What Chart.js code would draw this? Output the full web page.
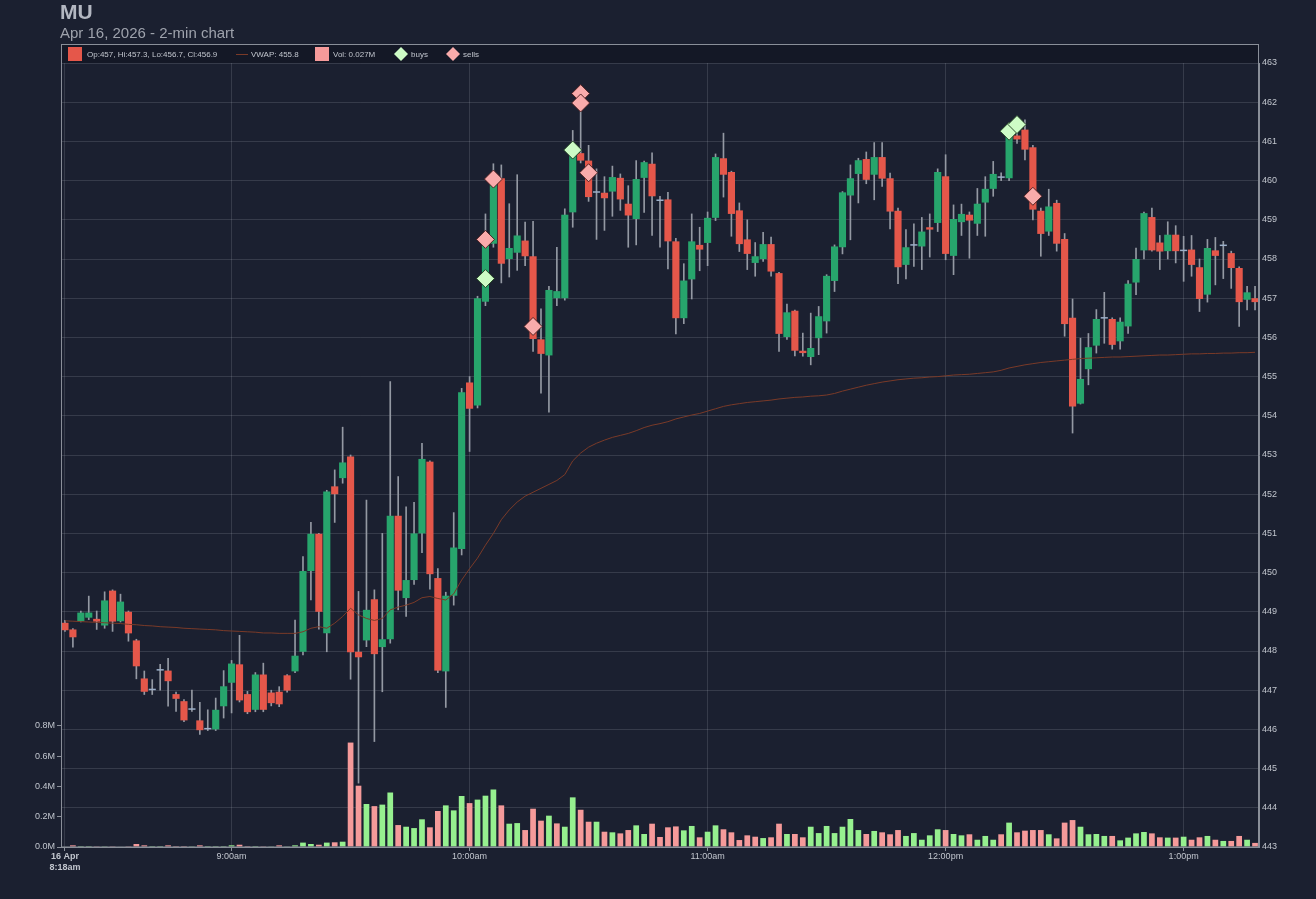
<!DOCTYPE html>
<html>
<head>
<meta charset="utf-8">
<title>MU 2-min chart</title>
<script src="https://cdn.jsdelivr.net/npm/chart.js@4.4.1/dist/chart.umd.min.js"></script>
<style>
  html, body { margin: 0; padding: 0; background: #1b2030; }
  #wrap { width: 1316px; height: 899px; }
</style>
</head>
<body>
<div id="wrap"><canvas id="mu" width="1316" height="899"></canvas></div>
<script>
// 2-min bars from 8:18am to 1:18pm
const times = [];
for (let m = 8 * 60 + 18; m <= 13 * 60 + 18; m += 2) {
  const h = Math.floor(m / 60), mm = m % 60;
  times.push((h > 12 ? h - 12 : h) + ':' + String(mm).padStart(2, '0') + (h >= 12 ? 'pm' : 'am'));
}
const dayLabel = '16 Apr';
const tickLabels = ['8:18am', '9:00am', '10:00am', '11:00am', '12:00pm', '1:00pm'];
const priceTicks = { min: 443, max: 463, step: 1 };
const volTicks = [0, 0.2, 0.4, 0.6, 0.8];

const opens = [
  448.72, 448.55, 448.76, 448.85, 448.82, 448.65, 449.54, 448.76, 449.00, 448.27,
  447.30, 447.00, 447.50, 447.50, 446.90, 446.72, 446.50, 446.23, 446.00, 446.00,
  446.59, 447.19, 447.66, 446.90, 446.50, 447.40, 446.94, 446.96, 447.38, 447.48,
  447.98, 450.04, 450.99, 448.45, 452.20, 452.41, 452.96, 447.98, 448.27, 449.32,
  448.10, 448.30, 451.45, 449.35, 449.81, 451.00, 452.83, 449.86, 447.48, 449.41,
  450.60, 454.85, 454.26, 456.91, 458.39, 460.06, 458.00, 458.16, 458.47, 458.07,
  455.95, 455.54, 457.00, 457.00, 459.19, 460.70, 460.51, 459.69, 459.69, 459.72,
  460.07, 459.41, 459.02, 460.07, 460.43, 459.50, 459.52, 458.45, 456.49, 457.48,
  458.36, 458.41, 459.05, 460.57, 460.22, 459.24, 458.50, 457.90, 458.00, 458.38,
  457.64, 456.01, 456.68, 455.66, 455.50, 455.98, 456.41, 457.44, 458.30, 459.62,
  460.17, 460.55, 460.15, 460.60, 460.06, 459.23, 457.85, 458.34, 458.32, 458.81,
  458.92, 460.11, 458.08, 458.94, 459.13, 458.90, 459.44, 459.79, 460.07, 460.06,
  461.15, 461.30, 460.85, 459.23, 458.70, 459.43, 458.51, 456.50, 454.31, 455.19,
  455.79, 456.48, 456.47, 455.90, 456.28, 457.40, 458.22, 459.07, 458.42, 458.20,
  458.62, 458.20, 458.24, 457.79, 457.09, 458.22, 458.33, 458.15, 457.77, 456.96,
  457.00
];
const highs = [
  448.78, 448.57, 449.02, 449.40, 449.02, 449.51, 449.56, 449.45, 449.02, 448.30,
  447.49, 447.27, 447.66, 447.81, 446.95, 446.76, 447.00, 446.69, 446.50, 446.80,
  447.50, 447.76, 448.40, 446.97, 447.45, 447.69, 447.00, 447.09, 447.40, 448.79,
  450.41, 451.28, 451.00, 452.10, 452.62, 453.71, 453.00, 449.52, 451.85, 449.56,
  451.00, 454.87, 452.45, 451.68, 451.79, 453.30, 452.85, 450.10, 449.50, 451.53,
  454.70, 455.00, 457.05, 459.15, 460.43, 460.40, 459.41, 460.15, 458.94, 458.96,
  456.73, 457.30, 458.30, 459.28, 461.28, 461.85, 460.90, 460.30, 460.10, 460.37,
  460.17, 459.87, 460.51, 460.50, 460.71, 459.60, 459.70, 458.53, 457.88, 459.15,
  458.81, 459.20, 460.68, 461.21, 460.24, 459.43, 459.00, 458.42, 458.68, 458.56,
  457.66, 456.85, 456.70, 456.11, 456.62, 456.79, 457.60, 458.36, 459.72, 460.40,
  460.57, 460.73, 460.97, 460.97, 460.19, 459.30, 458.75, 458.90, 459.06, 459.15,
  460.30, 460.66, 459.38, 459.40, 459.20, 459.80, 460.10, 460.49, 460.20, 461.15,
  461.60, 461.55, 460.90, 459.30, 459.78, 459.50, 458.65, 456.98, 455.98, 456.10,
  456.71, 457.15, 456.50, 456.50, 457.45, 458.28, 459.20, 459.30, 458.60, 458.95,
  458.85, 458.58, 458.60, 458.00, 458.50, 458.55, 458.45, 458.20, 457.80, 457.30,
  457.30
];
const lows = [
  448.50, 448.10, 448.74, 448.80, 448.55, 448.58, 448.50, 448.74, 448.25, 447.29,
  446.89, 446.89, 447.00, 446.59, 446.46, 446.20, 446.46, 445.87, 445.97, 445.97,
  446.29, 446.42, 446.70, 446.40, 446.45, 446.45, 446.60, 446.58, 446.95, 447.45,
  447.90, 449.30, 448.56, 447.98, 451.28, 452.28, 447.28, 444.63, 448.11, 445.69,
  446.96, 448.20, 449.05, 448.88, 449.70, 450.51, 449.58, 447.45, 446.56, 449.17,
  450.45, 453.09, 454.20, 456.81, 458.30, 457.39, 457.54, 457.71, 457.83, 455.64,
  454.58, 454.09, 456.81, 456.95, 458.81, 460.45, 459.47, 458.50, 458.73, 459.09,
  459.24, 458.30, 458.36, 459.19, 458.60, 458.30, 457.75, 456.09, 456.35, 456.98,
  457.70, 457.83, 458.98, 459.58, 458.58, 458.19, 457.73, 457.56, 457.94, 457.56,
  455.64, 455.95, 455.53, 455.52, 455.30, 455.56, 456.11, 457.17, 458.13, 458.49,
  459.43, 459.92, 459.51, 459.85, 458.77, 457.37, 457.49, 457.81, 457.73, 458.05,
  458.70, 457.98, 457.60, 458.60, 458.02, 458.60, 458.58, 459.60, 460.00, 460.00,
  460.95, 460.53, 459.00, 458.07, 458.60, 458.20, 456.03, 453.56, 454.30, 454.79,
  455.60, 455.85, 455.70, 455.70, 456.10, 457.09, 458.00, 458.20, 457.73, 458.00,
  457.90, 457.43, 457.56, 456.66, 456.90, 457.34, 457.50, 457.25, 456.28, 456.70,
  456.70
];
const closes = [
  448.53, 448.35, 448.98, 448.98, 448.75, 449.29, 448.75, 449.26, 448.45, 447.61,
  446.96, 447.00, 447.52, 447.23, 446.78, 446.23, 446.50, 445.98, 446.00, 446.50,
  447.10, 447.68, 446.74, 446.44, 447.40, 446.50, 446.67, 446.64, 446.99, 447.88,
  450.04, 450.99, 449.00, 452.07, 452.00, 452.81, 447.97, 447.84, 449.05, 447.92,
  448.30, 451.45, 449.54, 449.81, 451.00, 452.90, 449.96, 447.50, 449.41, 450.64,
  454.60, 454.18, 457.00, 458.39, 459.96, 457.88, 458.28, 458.60, 458.07, 455.96,
  455.58, 457.21, 457.18, 459.13, 460.68, 460.51, 459.58, 459.70, 459.55, 460.09,
  459.52, 459.11, 460.04, 460.47, 459.60, 459.48, 458.45, 456.49, 457.45, 458.45,
  458.24, 459.05, 460.60, 460.15, 459.15, 458.38, 458.13, 458.07, 458.38, 457.68,
  456.09, 456.64, 455.66, 455.60, 455.73, 456.54, 457.57, 458.32, 459.70, 460.06,
  460.52, 460.02, 460.60, 460.05, 459.21, 457.79, 458.30, 458.36, 458.70, 458.75,
  460.22, 458.13, 459.02, 459.15, 458.98, 459.41, 459.79, 460.17, 460.10, 461.13,
  461.05, 460.79, 459.26, 458.64, 459.34, 458.39, 456.34, 454.24, 454.94, 455.75,
  456.47, 456.50, 455.81, 456.40, 457.37, 458.00, 459.17, 458.22, 458.19, 458.62,
  458.20, 458.22, 457.85, 456.98, 458.28, 458.08, 458.35, 457.77, 456.90, 457.15,
  456.90
];
// volume in millions
const volumes = [
  0.003, 0.011, 0.006, 0.006, 0.005, 0.005, 0.005, 0.003, 0.005, 0.020,
  0.011, 0.006, 0.006, 0.011, 0.006, 0.006, 0.005, 0.011, 0.006, 0.006,
  0.006, 0.011, 0.015, 0.006, 0.006, 0.005, 0.002, 0.011, 0.002, 0.011,
  0.029, 0.020, 0.015, 0.029, 0.031, 0.035, 0.690, 0.405, 0.284, 0.270,
  0.280, 0.360, 0.145, 0.134, 0.125, 0.183, 0.130, 0.238, 0.275, 0.242,
  0.337, 0.290, 0.313, 0.339, 0.380, 0.275, 0.154, 0.158, 0.112, 0.253,
  0.174, 0.207, 0.156, 0.134, 0.328, 0.246, 0.167, 0.167, 0.101, 0.097,
  0.090, 0.112, 0.143, 0.086, 0.154, 0.066, 0.130, 0.136, 0.110, 0.139,
  0.064, 0.101, 0.143, 0.117, 0.097, 0.046, 0.077, 0.068, 0.059, 0.064,
  0.154, 0.086, 0.086, 0.064, 0.134, 0.092, 0.139, 0.092, 0.134, 0.185,
  0.112, 0.086, 0.106, 0.097, 0.084, 0.112, 0.073, 0.092, 0.048, 0.077,
  0.117, 0.112, 0.086, 0.077, 0.084, 0.048, 0.073, 0.048, 0.084, 0.161,
  0.097, 0.108, 0.112, 0.112, 0.084, 0.057, 0.161, 0.178, 0.134, 0.084,
  0.086, 0.073, 0.073, 0.044, 0.062, 0.090, 0.099, 0.090, 0.064, 0.062,
  0.062, 0.068, 0.048, 0.064, 0.073, 0.048, 0.040, 0.040, 0.073, 0.048,
  0.027
];
const vwap = [
  448.77, 448.76, 448.75, 448.74, 448.73, 448.72, 448.71, 448.70, 448.68, 448.67,
  448.65, 448.64, 448.62, 448.61, 448.60, 448.58, 448.57, 448.56, 448.55, 448.54,
  448.52, 448.51, 448.50, 448.49, 448.48, 448.46, 448.46, 448.45, 448.45, 448.45,
  448.49, 448.58, 448.62, 448.58, 448.71, 448.88, 449.09, 448.92, 448.83, 448.78,
  448.83, 449.05, 449.12, 449.17, 449.24, 449.36, 449.39, 449.34, 449.30, 449.46,
  449.81, 450.10, 450.37, 450.70, 451.00, 451.35, 451.60, 451.80, 451.95, 452.05,
  452.15, 452.25, 452.35, 452.50, 452.85, 453.05, 453.20, 453.30, 453.38, 453.45,
  453.50, 453.55, 453.62, 453.70, 453.76, 453.80, 453.85, 453.92, 453.97, 454.02,
  454.06, 454.12, 454.18, 454.24, 454.28, 454.31, 454.34, 454.36, 454.38, 454.40,
  454.43, 454.45, 454.47, 454.48, 454.50, 454.51, 454.53, 454.57, 454.63, 454.68,
  454.73, 454.78, 454.82, 454.86, 454.89, 454.92, 454.94, 454.96, 454.97, 454.99,
  455.00, 455.02, 455.04, 455.05, 455.06, 455.08, 455.10, 455.12, 455.16, 455.22,
  455.26, 455.30, 455.33, 455.36, 455.38, 455.40, 455.42, 455.44, 455.46, 455.47,
  455.48, 455.49, 455.50, 455.50, 455.51, 455.52, 455.53, 455.54, 455.55, 455.55,
  455.56, 455.57, 455.58, 455.58, 455.59, 455.59, 455.60, 455.60, 455.61, 455.61,
  455.62
];
// trade markers: bar index + price
const buyBars = [53, 64, 119, 120];
const buyPrices = [457.50, 460.78, 461.26, 461.43];
const sellBars = [53, 54, 59, 65, 65, 66, 122];
const sellPrices = [458.50, 460.04, 456.28, 462.22, 461.98, 460.20, 459.60];

const titleText = 'MU';
const subtitleText = 'Apr 16, 2026 - 2-min chart';
const legendTexts = ['Op:457, Hi:457.3, Lo:456.7, Cl:456.9', 'VWAP: 455.8', 'Vol: 0.027M', 'buys', 'sells'];

// colours
const upColor = '#27a56c';
const downColor = '#e5574a';
const dojiColor = '#9db0ca';
const wickColor = '#9499a3';
const volUp = '#96f08f';
const volDown = '#f59a9a';
const vwapColor = '#7a3a28';
const buyColor = '#cdfcc6';
const sellColor = '#f9abab';
const gridColor = 'rgba(190, 196, 210, 0.17)';
const axisColor = '#8a8f99';
const textColor = '#c2c6ce';
const fontFamily = '"Liberation Sans", Arial, sans-serif';

const bodyColors = closes.map((c, i) => {
  const d = c - opens[i];
  return d > 0.035 ? upColor : (d < -0.035 ? downColor : dojiColor);
});
const volColors = closes.map((c, i) => (i === 0 || c >= closes[i - 1]) ? volUp : volDown);

// title, legend strip and frame
const framePlugin = {
  id: 'frame',
  beforeDraw(chart) {
    const { ctx, chartArea: a } = chart;
    ctx.save();
    ctx.fillStyle = '#1b2030';
    ctx.fillRect(0, 0, chart.width, chart.height);
    ctx.fillStyle = '#141826';
    ctx.fillRect(a.left, 44, a.right - a.left, a.top - 44);
    ctx.restore();
  },
  afterDraw(chart) {
    const { ctx, chartArea: a } = chart;
    ctx.save();
    ctx.textBaseline = 'alphabetic';
    ctx.fillStyle = '#b3b7c1';
    ctx.font = 'bold 21px ' + fontFamily;
    ctx.fillText(titleText, 60, 19);
    ctx.fillStyle = '#9ea2ac';
    ctx.font = '15px ' + fontFamily;
    ctx.fillText(subtitleText, 60, 38);

    ctx.strokeStyle = axisColor;
    ctx.lineWidth = 1;
    ctx.strokeRect(a.left + 0.5, 44.5, a.right - a.left - 1, a.bottom - 44.5);

    // legend
    const cy = 54;
    const symX = [68, 236, 315, 394, 446];
    const txtX = [87, 251, 333, 411, 463];
    ctx.fillStyle = downColor;
    ctx.fillRect(symX[0], cy - 7, 14, 14);
    ctx.strokeStyle = vwapColor;
    ctx.beginPath();
    ctx.moveTo(symX[1], cy + 0.5);
    ctx.lineTo(symX[1] + 12, cy + 0.5);
    ctx.stroke();
    ctx.fillStyle = volDown;
    ctx.fillRect(symX[2], cy - 7, 14, 14);
    [[symX[3], buyColor], [symX[4], sellColor]].forEach(([x, col]) => {
      ctx.fillStyle = col;
      ctx.beginPath();
      ctx.moveTo(x + 7, cy - 7);
      ctx.lineTo(x + 14, cy);
      ctx.lineTo(x + 7, cy + 7);
      ctx.lineTo(x, cy);
      ctx.closePath();
      ctx.fill();
    });
    ctx.fillStyle = textColor;
    ctx.font = '8px ' + fontFamily;
    ctx.textBaseline = 'middle';
    legendTexts.forEach((t, i) => ctx.fillText(t, txtX[i], cy + 0.5));
    ctx.restore();
  }
};

const ctx = document.getElementById('mu').getContext('2d');
const chart = new Chart(ctx, {
  data: {
    labels: times,
    datasets: [
      {
        type: 'line',
        label: 'sells',
        data: sellBars.map((b, k) => ({ x: times[b], y: sellPrices[k] })),
        yAxisID: 'y',
        showLine: false,
        pointStyle: 'rectRot',
        pointRadius: 9,
        backgroundColor: sellColor,
        borderColor: 'rgba(70, 25, 25, 0.9)',
        borderWidth: 1,
        order: 0
      },
      {
        type: 'line',
        label: 'buys',
        data: buyBars.map((b, k) => ({ x: times[b], y: buyPrices[k] })),
        yAxisID: 'y',
        showLine: false,
        pointStyle: 'rectRot',
        pointRadius: 9,
        backgroundColor: buyColor,
        borderColor: 'rgba(30, 60, 30, 0.9)',
        borderWidth: 1,
        order: 1
      },
      {
        type: 'line',
        label: 'VWAP',
        data: vwap,
        yAxisID: 'y',
        borderColor: vwapColor,
        borderWidth: 1,
        pointRadius: 0,
        tension: 0,
        order: 2
      },
      {
        type: 'bar',
        label: 'body',
        data: opens.map((o, i) => [o, closes[i]]),
        yAxisID: 'y',
        backgroundColor: bodyColors,
        borderWidth: 0,
        barPercentage: 0.9,
        categoryPercentage: 1,
        minBarLength: 1.5,
        grouped: false,
        order: 3
      },
      {
        type: 'bar',
        label: 'wick',
        data: lows.map((l, i) => [l, highs[i]]),
        yAxisID: 'y',
        backgroundColor: wickColor,
        borderWidth: 0,
        barThickness: 1,
        grouped: false,
        order: 4
      },
      {
        type: 'bar',
        label: 'Vol',
        data: volumes,
        yAxisID: 'vol',
        backgroundColor: volColors,
        borderWidth: 0,
        barPercentage: 0.72,
        categoryPercentage: 1,
        grouped: false,
        order: 5
      }
    ]
  },
  options: {
    responsive: false,
    devicePixelRatio: 1,
    animation: false,
    events: [],
    layout: { padding: { top: 63, left: 0, right: 0, bottom: 0 } },
    plugins: {
      legend: { display: false },
      tooltip: { enabled: false }
    },
    scales: {
      x: {
        type: 'category',
        offset: true,
        grid: { offset: false, color: gridColor, tickLength: 4, tickColor: axisColor },
        border: { color: axisColor },
        afterBuildTicks: (axis) => {
          axis.ticks = times.map((t, i) => ({ value: i })).filter(t => tickLabels.includes(times[t.value]));
        },
        ticks: {
          autoSkip: false,
          maxRotation: 0,
          color: textColor,
          padding: 0,
          font: (c) => ({ size: 9, family: fontFamily, weight: c.index === 0 ? 'bold' : 'normal' }),
          callback: (v) => v === 0 ? [dayLabel, times[0]] : times[v]
        },
        afterFit: (axis) => { axis.height = 52; }
      },
      y: {
        position: 'right',
        min: priceTicks.min,
        max: priceTicks.max,
        grid: { color: gridColor, tickLength: 0 },
        border: { color: axisColor },
        ticks: { stepSize: priceTicks.step, color: textColor, padding: 3, font: { size: 9, family: fontFamily } },
        afterFit: (axis) => { axis.width = 57; }
      },
      vol: {
        position: 'left',
        min: 0,
        max: 5.18,
        grid: { drawOnChartArea: false, tickLength: 4, tickColor: axisColor },
        border: { color: axisColor },
        afterBuildTicks: (axis) => { axis.ticks = volTicks.map(v => ({ value: v })); },
        ticks: {
          color: textColor,
          padding: 2,
          font: { size: 9, family: fontFamily },
          callback: (v) => v.toFixed(1) + 'M'
        },
        afterFit: (axis) => { axis.width = 61; }
      }
    }
  },
  plugins: [framePlugin]
});
</script>
</body>
</html>
